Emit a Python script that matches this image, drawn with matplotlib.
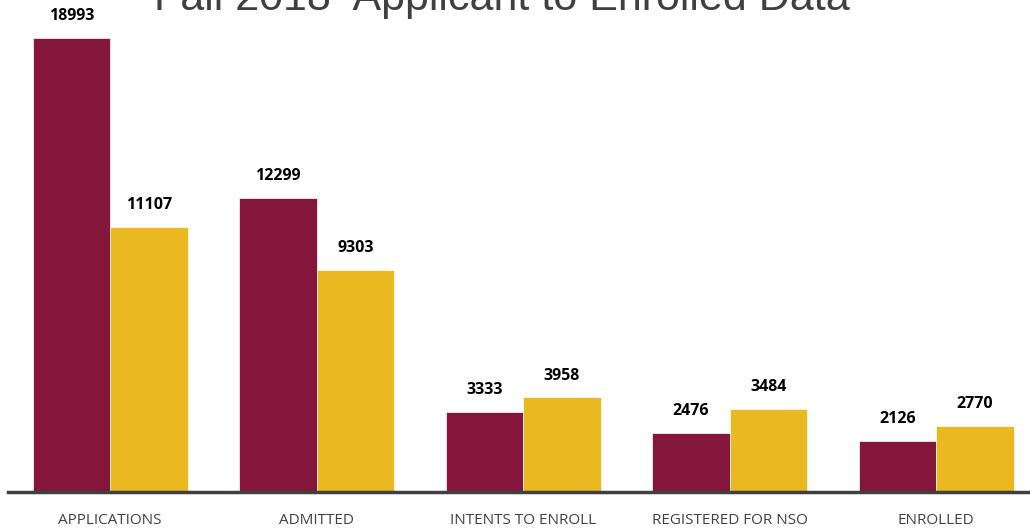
import matplotlib
matplotlib.use("Agg")
import matplotlib.pyplot as plt
import numpy as np

categories = ["APPLICATIONS", "ADMITTED", "INTENTS TO ENROLL", "REGISTERED FOR NSO", "ENROLLED"]
series_a = [18993, 12299, 3333, 2476, 2126]
series_b = [11107, 9303, 3958, 3484, 2770]
title = "Fall 2018  Applicant to Enrolled Data"

maroon = "#83163A"
gold = "#EAB820"

fig = plt.figure(figsize=(10.30, 5.32), dpi=100)
ax = fig.add_axes([8/1030, (532-492)/532, 1022/1030, 454/532])

x = np.arange(len(categories))
w = 0.375
ax.bar(x - w/2, series_a, width=w, color=maroon, edgecolor="white", linewidth=0.5)
ax.bar(x + w/2, series_b, width=w, color=gold, edgecolor="white", linewidth=0.5)

for xi, a, b in zip(x, series_a, series_b):
    ax.annotate(str(a), (xi - w/2, a), xytext=(0, 10), textcoords="offset points",
                ha="center", va="bottom", fontsize=11.5, fontweight="bold", family="Open Sans")
    ax.annotate(str(b), (xi + w/2, b), xytext=(0, 10), textcoords="offset points",
                ha="center", va="bottom", fontsize=11.5, fontweight="bold", family="Open Sans")

ax.set_xlim(-0.495, 4.454)
ax.set_ylim(0, 18993)
ax.set_xticks(x)
ax.set_xticklabels(categories, fontsize=11, color="#404040", family="Open Sans")
ax.tick_params(axis="x", length=0, pad=15)
ax.set_yticks([])
for s in ["top", "right", "left"]:
    ax.spines[s].set_visible(False)
ax.spines["bottom"].set_color("#404040")
ax.spines["bottom"].set_linewidth(2.5)
ax.patch.set_alpha(0)

fig.text(0.487, 1 - 10/532, title, ha="center", va="baseline", fontsize=31,
         color="#404040", family="Liberation Sans")

fig.savefig("out.png", dpi=100)
